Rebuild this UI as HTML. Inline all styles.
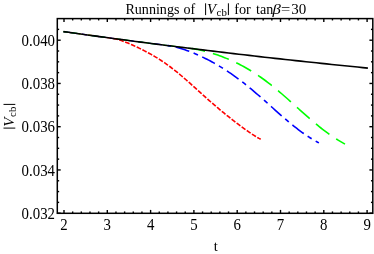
<!DOCTYPE html>
<html><head><meta charset="utf-8"><title>Runnings of |Vcb|</title>
<style>
html,body{margin:0;padding:0;background:#fff;}
body{width:374px;height:254px;overflow:hidden;font-family:"Liberation Serif",serif;}
svg{display:block;will-change:transform;}
text{font-family:"Liberation Serif",serif;font-size:14.0px;fill:#000;}
.it{font-style:italic;}
.tl{font-size:15px;}
.sub{font-size:10px;}
</style></head>
<body>
<svg width="374" height="254" viewBox="0 0 374 254">
<rect x="0" y="0" width="374" height="254" fill="#fff"/>
<g fill="none" stroke-width="1.6" stroke-linecap="butt" stroke-linejoin="round">
<path d="M63.40,31.60 L65.11,31.84 L66.82,32.08 L68.53,32.32 L70.24,32.56 L71.95,32.80 L73.66,33.04 L75.37,33.28 L77.08,33.52 L78.79,33.75 L80.50,33.99 L82.21,34.23 L83.92,34.47 L85.63,34.70 L87.34,34.94 L89.06,35.17 L90.77,35.41 L92.48,35.64 L94.19,35.88 L95.90,36.11 L97.61,36.35 L99.32,36.58 L101.03,36.81 L102.74,37.04 L104.45,37.28 L106.16,37.51 L107.87,37.74 L109.58,37.97 L111.29,38.20 L113.00,38.43" stroke="#ff0000" stroke-width="1.2" stroke-dasharray="4.7 1.6" stroke-dashoffset="0.2"/>
<path d="M63.40,31.60 L67.01,32.11 L70.61,32.61 L74.22,33.12 L77.83,33.62 L81.43,34.12 L85.04,34.62 L88.65,35.12 L92.26,35.61 L95.86,36.11 L99.47,36.60 L103.08,37.09 L106.68,37.58 L110.29,38.06 L113.90,38.55 L117.50,39.03 L121.11,39.51 L124.72,39.99 L128.32,40.47 L131.93,40.94 L135.54,41.42 L139.14,41.89 L142.75,42.36 L146.36,42.83 L149.97,43.29 L153.57,43.76 L157.18,44.22 L160.79,44.68 L164.39,45.14 L168.00,45.60" stroke="#0000ff" stroke-width="1.2" stroke-dasharray="14.2 4.7 4.75 4.7" stroke-dashoffset="0.0"/>
<path d="M63.40,31.60 L67.83,32.22 L72.27,32.85 L76.70,33.46 L81.14,34.08 L85.57,34.69 L90.01,35.30 L94.44,35.91 L98.88,36.52 L103.31,37.12 L107.74,37.72 L112.18,38.32 L116.61,38.91 L121.05,39.50 L125.48,40.09 L129.92,40.68 L134.35,41.26 L138.79,41.84 L143.22,42.42 L147.66,43.00 L152.09,43.57 L156.52,44.14 L160.96,44.70 L165.39,45.27 L169.83,45.83 L174.26,46.39 L178.70,46.94 L183.13,47.50 L187.57,48.05 L192.00,48.60" stroke="#00ff00" stroke-width="1.2" stroke-dasharray="17.0 8.2" stroke-dashoffset="0.0"/>
<path d="M113.00,38.43 L114.66,38.70 L116.32,39.06 L117.98,39.50 L119.64,39.99 L121.30,40.54 L122.96,41.13 L124.62,41.76 L126.28,42.42 L127.94,43.10 L129.60,43.81 L131.26,44.53 L132.91,45.27 L134.57,46.03 L136.23,46.79 L137.89,47.58 L139.55,48.37 L141.21,49.19 L142.87,50.01 L144.53,50.85 L146.19,51.72 L147.85,52.60 L149.51,53.49 L151.17,54.42 L152.83,55.36 L154.49,56.33 L156.15,57.32 L157.81,58.34 L159.47,59.39 L161.13,60.46 L162.79,61.56 L164.45,62.69 L166.11,63.85 L167.77,65.04 L169.42,66.25 L171.08,67.50 L172.74,68.77 L174.40,70.07 L176.06,71.39 L177.72,72.73 L179.38,74.10 L181.04,75.49 L182.70,76.90 L184.36,78.33 L186.02,79.77 L187.68,81.23 L189.34,82.70 L191.00,84.18 L192.66,85.66 L194.32,87.16 L195.98,88.65 L197.64,90.15 L199.30,91.65 L200.96,93.15 L202.62,94.65 L204.28,96.14 L205.93,97.62 L207.59,99.09 L209.25,100.56 L210.91,102.02 L212.57,103.46 L214.23,104.90 L215.89,106.32 L217.55,107.73 L219.21,109.13 L220.87,110.51 L222.53,111.88 L224.19,113.23 L225.85,114.58 L227.51,115.91 L229.17,117.23 L230.83,118.54 L232.49,119.83 L234.15,121.12 L235.81,122.39 L237.47,123.66 L239.13,124.91 L240.79,126.15 L242.44,127.38 L244.10,128.59 L245.76,129.79 L247.42,130.97 L249.08,132.13 L250.74,133.27 L252.40,134.38 L254.06,135.45 L255.72,136.48 L257.38,137.47 L259.04,138.39 L260.70,139.25" stroke="#ff0000" stroke-dasharray="4.7 1.6" stroke-dashoffset="50.268"/>
<path d="M168.00,45.60 L169.70,45.84 L171.39,46.13 L173.09,46.46 L174.78,46.84 L176.48,47.25 L178.17,47.70 L179.87,48.18 L181.56,48.69 L183.26,49.24 L184.96,49.81 L186.65,50.40 L188.35,51.02 L190.04,51.67 L191.74,52.34 L193.43,53.03 L195.13,53.74 L196.82,54.47 L198.52,55.22 L200.21,56.00 L201.91,56.79 L203.61,57.60 L205.30,58.44 L207.00,59.29 L208.69,60.16 L210.39,61.06 L212.08,61.97 L213.78,62.91 L215.47,63.86 L217.17,64.84 L218.87,65.84 L220.56,66.86 L222.26,67.91 L223.95,68.97 L225.65,70.06 L227.34,71.17 L229.04,72.30 L230.73,73.46 L232.43,74.63 L234.12,75.83 L235.82,77.05 L237.52,78.30 L239.21,79.56 L240.91,80.85 L242.60,82.15 L244.30,83.48 L245.99,84.83 L247.69,86.19 L249.38,87.58 L251.08,88.98 L252.78,90.39 L254.47,91.83 L256.17,93.27 L257.86,94.74 L259.56,96.21 L261.25,97.69 L262.95,99.19 L264.64,100.69 L266.34,102.19 L268.03,103.71 L269.73,105.22 L271.43,106.74 L273.12,108.26 L274.82,109.78 L276.51,111.29 L278.21,112.80 L279.90,114.30 L281.60,115.79 L283.29,117.27 L284.99,118.73 L286.69,120.19 L288.38,121.62 L290.08,123.04 L291.77,124.44 L293.47,125.81 L295.16,127.16 L296.86,128.49 L298.55,129.79 L300.25,131.06 L301.94,132.30 L303.64,133.51 L305.34,134.69 L307.03,135.83 L308.73,136.95 L310.42,138.02 L312.12,139.06 L313.81,140.06 L315.51,141.03 L317.20,141.96 L318.90,142.86" stroke="#0000ff" stroke-dasharray="14.2 4.7 4.75 4.7" stroke-dashoffset="105.534"/>
<path d="M192.00,48.60 L193.72,48.83 L195.44,49.10 L197.16,49.40 L198.88,49.74 L200.60,50.11 L202.31,50.50 L204.03,50.93 L205.75,51.37 L207.47,51.84 L209.19,52.33 L210.91,52.85 L212.63,53.38 L214.35,53.94 L216.07,54.51 L217.79,55.10 L219.51,55.72 L221.22,56.35 L222.94,57.00 L224.66,57.68 L226.38,58.37 L228.10,59.08 L229.82,59.82 L231.54,60.58 L233.26,61.36 L234.98,62.16 L236.70,62.99 L238.42,63.84 L240.13,64.71 L241.85,65.61 L243.57,66.54 L245.29,67.49 L247.01,68.47 L248.73,69.48 L250.45,70.51 L252.17,71.57 L253.89,72.65 L255.61,73.76 L257.33,74.91 L259.04,76.07 L260.76,77.27 L262.48,78.49 L264.20,79.74 L265.92,81.01 L267.64,82.31 L269.36,83.63 L271.08,84.98 L272.80,86.35 L274.52,87.74 L276.24,89.15 L277.96,90.59 L279.67,92.04 L281.39,93.50 L283.11,94.99 L284.83,96.49 L286.55,98.00 L288.27,99.52 L289.99,101.05 L291.71,102.59 L293.43,104.13 L295.15,105.68 L296.87,107.23 L298.58,108.78 L300.30,110.33 L302.02,111.87 L303.74,113.41 L305.46,114.94 L307.18,116.45 L308.90,117.96 L310.62,119.45 L312.34,120.93 L314.06,122.38 L315.78,123.82 L317.49,125.24 L319.21,126.63 L320.93,128.00 L322.65,129.34 L324.37,130.65 L326.09,131.94 L327.81,133.20 L329.53,134.42 L331.25,135.62 L332.97,136.78 L334.69,137.92 L336.40,139.02 L338.12,140.09 L339.84,141.13 L341.56,142.14 L343.28,143.13 L345.00,144.09" stroke="#00ff00" stroke-dasharray="17.0 8.2" stroke-dashoffset="129.720"/>
<path d="M63.40,31.60 L68.56,32.33 L73.72,33.05 L78.88,33.77 L84.04,34.48 L89.21,35.19 L94.37,35.90 L99.53,36.61 L104.69,37.31 L109.85,38.00 L115.01,38.70 L120.17,39.39 L125.33,40.07 L130.49,40.75 L135.65,41.43 L140.82,42.11 L145.98,42.78 L151.14,43.45 L156.30,44.11 L161.46,44.77 L166.62,45.42 L171.78,46.08 L176.94,46.72 L182.10,47.37 L187.26,48.01 L192.43,48.65 L197.59,49.28 L202.75,49.91 L207.91,50.54 L213.07,51.16 L218.23,51.78 L223.39,52.39 L228.55,53.00 L233.71,53.61 L238.87,54.21 L244.04,54.81 L249.20,55.41 L254.36,56.00 L259.52,56.59 L264.68,57.18 L269.84,57.76 L275.00,58.34 L280.16,58.91 L285.32,59.48 L290.48,60.05 L295.65,60.61 L300.81,61.17 L305.97,61.72 L311.13,62.27 L316.29,62.82 L321.45,63.37 L326.61,63.91 L331.77,64.44 L336.93,64.98 L342.09,65.51 L347.26,66.03 L352.42,66.55 L357.58,67.07 L362.74,67.58 L367.90,68.10" stroke="#000"/>
</g>
<g stroke="#000" stroke-width="1.4" fill="none">
<line x1="64.00" y1="213.30" x2="64.00" y2="209.90"/><line x1="64.00" y1="18.60" x2="64.00" y2="22.00"/><line x1="72.66" y1="213.30" x2="72.66" y2="211.45"/><line x1="72.66" y1="18.60" x2="72.66" y2="20.45"/><line x1="81.32" y1="213.30" x2="81.32" y2="211.45"/><line x1="81.32" y1="18.60" x2="81.32" y2="20.45"/><line x1="89.98" y1="213.30" x2="89.98" y2="211.45"/><line x1="89.98" y1="18.60" x2="89.98" y2="20.45"/><line x1="98.64" y1="213.30" x2="98.64" y2="211.45"/><line x1="98.64" y1="18.60" x2="98.64" y2="20.45"/><line x1="107.30" y1="213.30" x2="107.30" y2="209.90"/><line x1="107.30" y1="18.60" x2="107.30" y2="22.00"/><line x1="115.96" y1="213.30" x2="115.96" y2="211.45"/><line x1="115.96" y1="18.60" x2="115.96" y2="20.45"/><line x1="124.62" y1="213.30" x2="124.62" y2="211.45"/><line x1="124.62" y1="18.60" x2="124.62" y2="20.45"/><line x1="133.28" y1="213.30" x2="133.28" y2="211.45"/><line x1="133.28" y1="18.60" x2="133.28" y2="20.45"/><line x1="141.94" y1="213.30" x2="141.94" y2="211.45"/><line x1="141.94" y1="18.60" x2="141.94" y2="20.45"/><line x1="150.60" y1="213.30" x2="150.60" y2="209.90"/><line x1="150.60" y1="18.60" x2="150.60" y2="22.00"/><line x1="159.26" y1="213.30" x2="159.26" y2="211.45"/><line x1="159.26" y1="18.60" x2="159.26" y2="20.45"/><line x1="167.92" y1="213.30" x2="167.92" y2="211.45"/><line x1="167.92" y1="18.60" x2="167.92" y2="20.45"/><line x1="176.58" y1="213.30" x2="176.58" y2="211.45"/><line x1="176.58" y1="18.60" x2="176.58" y2="20.45"/><line x1="185.24" y1="213.30" x2="185.24" y2="211.45"/><line x1="185.24" y1="18.60" x2="185.24" y2="20.45"/><line x1="193.90" y1="213.30" x2="193.90" y2="209.90"/><line x1="193.90" y1="18.60" x2="193.90" y2="22.00"/><line x1="202.56" y1="213.30" x2="202.56" y2="211.45"/><line x1="202.56" y1="18.60" x2="202.56" y2="20.45"/><line x1="211.22" y1="213.30" x2="211.22" y2="211.45"/><line x1="211.22" y1="18.60" x2="211.22" y2="20.45"/><line x1="219.88" y1="213.30" x2="219.88" y2="211.45"/><line x1="219.88" y1="18.60" x2="219.88" y2="20.45"/><line x1="228.54" y1="213.30" x2="228.54" y2="211.45"/><line x1="228.54" y1="18.60" x2="228.54" y2="20.45"/><line x1="237.20" y1="213.30" x2="237.20" y2="209.90"/><line x1="237.20" y1="18.60" x2="237.20" y2="22.00"/><line x1="245.86" y1="213.30" x2="245.86" y2="211.45"/><line x1="245.86" y1="18.60" x2="245.86" y2="20.45"/><line x1="254.52" y1="213.30" x2="254.52" y2="211.45"/><line x1="254.52" y1="18.60" x2="254.52" y2="20.45"/><line x1="263.18" y1="213.30" x2="263.18" y2="211.45"/><line x1="263.18" y1="18.60" x2="263.18" y2="20.45"/><line x1="271.84" y1="213.30" x2="271.84" y2="211.45"/><line x1="271.84" y1="18.60" x2="271.84" y2="20.45"/><line x1="280.50" y1="213.30" x2="280.50" y2="209.90"/><line x1="280.50" y1="18.60" x2="280.50" y2="22.00"/><line x1="289.16" y1="213.30" x2="289.16" y2="211.45"/><line x1="289.16" y1="18.60" x2="289.16" y2="20.45"/><line x1="297.82" y1="213.30" x2="297.82" y2="211.45"/><line x1="297.82" y1="18.60" x2="297.82" y2="20.45"/><line x1="306.48" y1="213.30" x2="306.48" y2="211.45"/><line x1="306.48" y1="18.60" x2="306.48" y2="20.45"/><line x1="315.14" y1="213.30" x2="315.14" y2="211.45"/><line x1="315.14" y1="18.60" x2="315.14" y2="20.45"/><line x1="323.80" y1="213.30" x2="323.80" y2="209.90"/><line x1="323.80" y1="18.60" x2="323.80" y2="22.00"/><line x1="332.46" y1="213.30" x2="332.46" y2="211.45"/><line x1="332.46" y1="18.60" x2="332.46" y2="20.45"/><line x1="341.12" y1="213.30" x2="341.12" y2="211.45"/><line x1="341.12" y1="18.60" x2="341.12" y2="20.45"/><line x1="349.78" y1="213.30" x2="349.78" y2="211.45"/><line x1="349.78" y1="18.60" x2="349.78" y2="20.45"/><line x1="358.44" y1="213.30" x2="358.44" y2="211.45"/><line x1="358.44" y1="18.60" x2="358.44" y2="20.45"/><line x1="367.10" y1="213.30" x2="367.10" y2="209.90"/><line x1="367.10" y1="18.60" x2="367.10" y2="22.00"/><line x1="57.30" y1="213.20" x2="60.70" y2="213.20"/><line x1="372.80" y1="213.20" x2="369.40" y2="213.20"/><line x1="57.30" y1="202.39" x2="59.15" y2="202.39"/><line x1="372.80" y1="202.39" x2="370.95" y2="202.39"/><line x1="57.30" y1="191.57" x2="59.15" y2="191.57"/><line x1="372.80" y1="191.57" x2="370.95" y2="191.57"/><line x1="57.30" y1="180.76" x2="59.15" y2="180.76"/><line x1="372.80" y1="180.76" x2="370.95" y2="180.76"/><line x1="57.30" y1="169.95" x2="60.70" y2="169.95"/><line x1="372.80" y1="169.95" x2="369.40" y2="169.95"/><line x1="57.30" y1="159.14" x2="59.15" y2="159.14"/><line x1="372.80" y1="159.14" x2="370.95" y2="159.14"/><line x1="57.30" y1="148.32" x2="59.15" y2="148.32"/><line x1="372.80" y1="148.32" x2="370.95" y2="148.32"/><line x1="57.30" y1="137.51" x2="59.15" y2="137.51"/><line x1="372.80" y1="137.51" x2="370.95" y2="137.51"/><line x1="57.30" y1="126.70" x2="60.70" y2="126.70"/><line x1="372.80" y1="126.70" x2="369.40" y2="126.70"/><line x1="57.30" y1="115.89" x2="59.15" y2="115.89"/><line x1="372.80" y1="115.89" x2="370.95" y2="115.89"/><line x1="57.30" y1="105.07" x2="59.15" y2="105.07"/><line x1="372.80" y1="105.07" x2="370.95" y2="105.07"/><line x1="57.30" y1="94.26" x2="59.15" y2="94.26"/><line x1="372.80" y1="94.26" x2="370.95" y2="94.26"/><line x1="57.30" y1="83.45" x2="60.70" y2="83.45"/><line x1="372.80" y1="83.45" x2="369.40" y2="83.45"/><line x1="57.30" y1="72.64" x2="59.15" y2="72.64"/><line x1="372.80" y1="72.64" x2="370.95" y2="72.64"/><line x1="57.30" y1="61.82" x2="59.15" y2="61.82"/><line x1="372.80" y1="61.82" x2="370.95" y2="61.82"/><line x1="57.30" y1="51.01" x2="59.15" y2="51.01"/><line x1="372.80" y1="51.01" x2="370.95" y2="51.01"/><line x1="57.30" y1="40.20" x2="60.70" y2="40.20"/><line x1="372.80" y1="40.20" x2="369.40" y2="40.20"/><line x1="57.30" y1="29.39" x2="59.15" y2="29.39"/><line x1="372.80" y1="29.39" x2="370.95" y2="29.39"/>
</g>
<rect x="57.3" y="18.6" width="315.5" height="194.70000000000002" fill="none" stroke="#000" stroke-width="1.5"/>
<g class="tl"><text transform="translate(64.00,230.30) scale(0.99,1.06)" text-anchor="middle" class="tl">2</text><text transform="translate(107.30,230.30) scale(0.99,1.06)" text-anchor="middle" class="tl">3</text><text transform="translate(150.60,230.30) scale(0.99,1.06)" text-anchor="middle" class="tl">4</text><text transform="translate(193.90,230.30) scale(0.99,1.06)" text-anchor="middle" class="tl">5</text><text transform="translate(237.20,230.30) scale(0.99,1.06)" text-anchor="middle" class="tl">6</text><text transform="translate(280.50,230.30) scale(0.99,1.06)" text-anchor="middle" class="tl">7</text><text transform="translate(323.80,230.30) scale(0.99,1.06)" text-anchor="middle" class="tl">8</text><text transform="translate(367.10,230.30) scale(0.99,1.06)" text-anchor="middle" class="tl">9</text></g>
<g class="tl"><text transform="translate(55.00,218.80) scale(0.99,1.06)" text-anchor="end" class="tl">0.032</text><text transform="translate(55.00,175.55) scale(0.99,1.06)" text-anchor="end" class="tl">0.034</text><text transform="translate(55.00,132.30) scale(0.99,1.06)" text-anchor="end" class="tl">0.036</text><text transform="translate(55.00,89.05) scale(0.99,1.06)" text-anchor="end" class="tl">0.038</text><text transform="translate(55.00,45.80) scale(0.99,1.06)" text-anchor="end" class="tl">0.040</text></g>
<text transform="translate(125.4,13.7) scale(1,1)" class="" style="font-size:14.1px">Runnings</text><text transform="translate(183.4,13.7) scale(1,1)" class="" style="font-size:14.1px">of</text><text transform="translate(207.0,13.7) scale(1.02,1)" class="it" style="font-size:14.5px">V</text><text transform="translate(216.6,16.0) scale(1,1)" class="" style="font-size:10.8px">cb</text><text transform="translate(234.2,13.7) scale(1,1)" class="" style="font-size:14.3px">for</text><text transform="translate(256.0,13.7) scale(1,1)" class="" style="font-size:14.1px">tan</text><text transform="translate(272.5,13.7) scale(1.13,1)" class="it" style="font-size:14.8px">β</text><text transform="translate(281.0,13.7) scale(1.06,1)" class="" style="font-size:15.5px">=</text><text transform="translate(291.3,13.7) scale(1.0,1)" class="" style="font-size:15.0px">30</text><path d="M205.6,3.3V15.1M228.4,3.3V15.1" stroke="#000" stroke-width="1.0" fill="none"/>
<text x="215.7" y="250.9" text-anchor="middle" style="font-size:14.6px">t</text>
<g transform="translate(13.7,128.1) rotate(-90)"><text transform="translate(1.4,0) scale(1.02,1)" class="it" style="font-size:14.8px">V</text><text x="11.2" y="2.3" style="font-size:10.8px">cb</text><path d="M0,-10.2V1.6M23.7,-10.2V1.6" stroke="#000" stroke-width="1.0" fill="none"/></g>
</svg>
</body></html>
